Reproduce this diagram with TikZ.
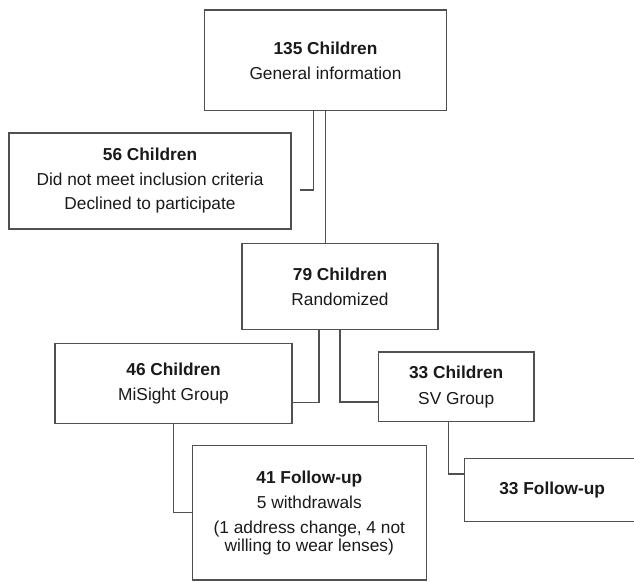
\documentclass[tikz,border=0pt]{standalone}
\usepackage{fontspec}
\setmainfont{Liberation Sans}
\usetikzlibrary{calc}
\definecolor{linegray}{HTML}{505050}
\definecolor{txt}{HTML}{1A1A1A}
\begin{document}
\begin{tikzpicture}[x=1pt,y=-1pt,
  box/.style={draw=linegray,line width=1.2pt,fill=white,inner sep=0pt,align=center,
    text=txt,font=\fontsize{17.3}{18}\selectfont},
  conn/.style={draw=linegray,line width=1.2pt}]
\useasboundingbox (0,0) rectangle (634,581);
\clip (0,0) rectangle (634,581);
\fill[white] (0,0) rectangle (634,581);
\node[box,minimum width=242pt,minimum height=100.7pt] (top) at (325.5,60.4)
  {\textbf{135 Children}\\[7pt]General information};
\node[box,minimum width=282pt,minimum height=96pt] (n56) at (150,181)
  {\textbf{56 Children}\\[6.5pt]Did not meet inclusion criteria\\[6.5pt]Declined to participate};
\node[box,minimum width=196pt,minimum height=85.6pt] (n79) at (340,286.5)
  {\textbf{79 Children}\\[7pt]Randomized};
\node[box,minimum width=237pt,minimum height=80pt] (n46) at (173.5,383.3)
  {\textbf{46 Children}\\[7pt]MiSight Group};
\node[box,minimum width=155.5pt,minimum height=69.7pt] (n33) at (456.2,386.8)
  {\textbf{33 Children}\\[7.5pt]SV Group};
\node[box,minimum width=234.3pt,minimum height=134.3pt] (n41) at (309.3,512.8)
  {\textbf{41 Follow-up}\\[7pt]5 withdrawals\\[7.5pt](1 address change, 4 not\\willing to wear lenses)};
\node[box,minimum width=190pt,minimum height=63pt] (n33f) at (559.75,489.8)
  {\hspace*{-15.1pt}\textbf{33 Follow-up}};
\coordinate (e56) at (299.6,190);
\draw[conn] ($(top.south)+(-11.7,0)$) |- (e56);
\draw[conn] (top.south) -- (top.south |- n79.north);
\draw[conn] ($(n79.south)+(-21,0)$) |- ($(n46.east)+(0,19.4)$);
\draw[conn] (n79.south) |- ($(n33.west)+(0,15.2)$);
\draw[conn] (n46.south) |- (n41.west);
\draw[conn] ($(n33.south)+(-7.6,0)$) |- ($(n33f.west)+(0,-15.8)$);
\end{tikzpicture}
\end{document}
